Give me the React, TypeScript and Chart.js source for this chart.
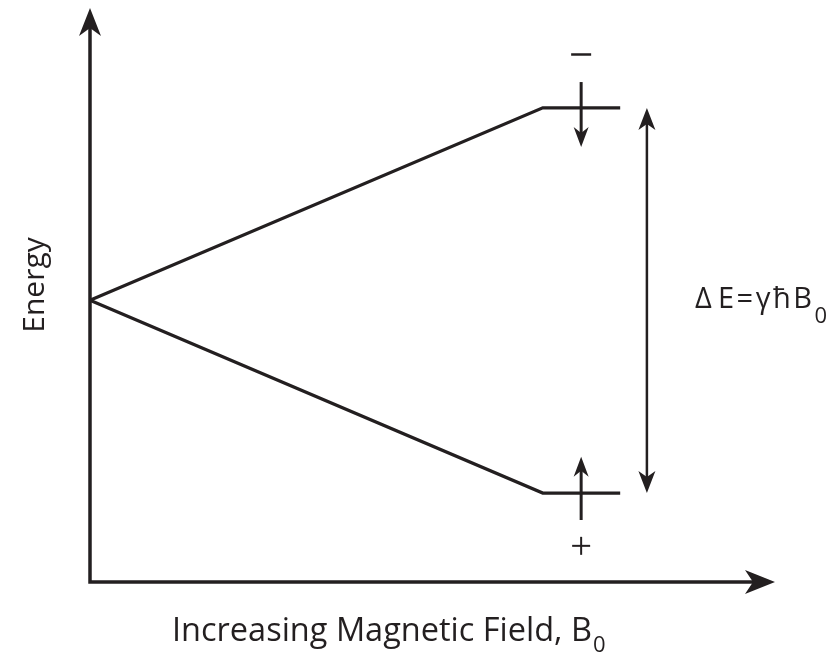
import React, { useEffect, useRef } from "react";
import { Chart, registerables } from "chart.js";

Chart.register(...registerables);

// Data (in chart units: x 0..100, y 0..100)
const fieldPoints = [0, 66.1, 77.4];
const upperEnergy = [49.1, 82.6, 82.6];
const lowerEnergy = [49.1, 15.5, 15.5];
const spinArrowX = 71.7;
const spinDown = [87.1, 75.8]; // from -> tip
const spinUp = [10.8, 21.8]; // from -> tip
const gapArrowX = 81.3;
const gapArrow = [82.6, 15.5];
const minusY = 91.9;
const plusY = 6.3;
const xTitle = "Increasing Magnetic Field, B";
const yTitle = "Energy";
const gapDelta = "\u0394";
const gapRest = "E=\u03b3\u0127B";
const subZero = "0";

const INK = "#231f20";
const FONT = '"Open Sans", "Noto Sans", sans-serif';

function arrowHead(ctx: CanvasRenderingContext2D, tx: number, ty: number, dx: number, dy: number, len: number, half: number, notch: number) {
  const bx = tx - dx * len;
  const by = ty - dy * len;
  const nx = tx - dx * (len - notch);
  const ny = ty - dy * (len - notch);
  const px = -dy;
  const py = dx;
  ctx.beginPath();
  ctx.moveTo(tx, ty);
  ctx.lineTo(bx + px * half, by + py * half);
  ctx.lineTo(nx, ny);
  ctx.lineTo(bx - px * half, by - py * half);
  ctx.closePath();
  ctx.fill();
}

function line(ctx: CanvasRenderingContext2D, x1: number, y1: number, x2: number, y2: number, w: number) {
  ctx.lineWidth = w;
  ctx.beginPath();
  ctx.moveTo(x1, y1);
  ctx.lineTo(x2, y2);
  ctx.stroke();
}

const diagramPlugin = {
  id: "diagram",
  beforeDatasetsDraw(chart: any) {
    const { ctx, scales } = chart;
    const xs = scales.x;
    const ys = scales.y;
    const x0 = xs.getPixelForValue(0);
    const x1 = xs.getPixelForValue(100);
    const y0 = ys.getPixelForValue(0);
    const y1 = ys.getPixelForValue(100);
    ctx.save();
    ctx.strokeStyle = INK;
    ctx.fillStyle = INK;
    ctx.lineCap = "butt";
    ctx.lineJoin = "miter";
    ctx.lineWidth = 3.5;
    ctx.beginPath();
    ctx.moveTo(x0, y1 + 20);
    ctx.lineTo(x0, y0);
    ctx.lineTo(x1 - 20, y0);
    ctx.stroke();
    arrowHead(ctx, x0, y1, 0, -1, 28, 11, 8);
    arrowHead(ctx, x1, y0, 1, 0, 30, 12, 8);
    ctx.restore();
  },
  afterDatasetsDraw(chart: any) {
    const { ctx, scales } = chart;
    const xs = scales.x;
    const ys = scales.y;
    const px = (v: number) => xs.getPixelForValue(v);
    const py = (v: number) => ys.getPixelForValue(v);
    ctx.save();
    ctx.strokeStyle = INK;
    ctx.fillStyle = INK;

    // spin arrows
    const sx = px(spinArrowX);
    line(ctx, sx, py(spinDown[0]), sx, py(spinDown[1]) - 12, 3);
    arrowHead(ctx, sx, py(spinDown[1]), 0, 1, 20, 7.5, 6);
    line(ctx, sx, py(spinUp[0]), sx, py(spinUp[1]) + 12, 3);
    arrowHead(ctx, sx, py(spinUp[1]), 0, -1, 20, 7.5, 6);

    // gap double arrow
    const gx = px(gapArrowX);
    const gt = py(gapArrow[0]);
    const gb = py(gapArrow[1]);
    line(ctx, gx, gt + 12, gx, gb - 12, 2.5);
    arrowHead(ctx, gx, gt, 0, -1, 22, 8.5, 6);
    arrowHead(ctx, gx, gb, 0, 1, 22, 8.5, 6);

    // minus / plus
    line(ctx, sx - 10, py(minusY), sx + 10, py(minusY), 2.5);
    const pyy = py(plusY);
    line(ctx, sx - 9, pyy, sx + 9, pyy, 2);
    line(ctx, sx, pyy - 9, sx, pyy + 9, 2);

    // texts
    ctx.textBaseline = "alphabetic";
    ctx.textAlign = "left";
    ctx.font = `32.5px ${FONT}`;
    const tx = 172;
    const ty = 641;
    ctx.fillText(xTitle, tx, ty);
    const w = ctx.measureText(xTitle).width;
    ctx.font = `22px ${FONT}`;
    ctx.fillText(subZero, tx + w + 1, ty + 11);

    // gap label
    ctx.font = `29px ${FONT}`;
    ctx.fillText(gapDelta, 695, 308);
    (ctx as any).letterSpacing = "2.5px";
    ctx.fillText(gapRest, 718, 308);
    const w2 = ctx.measureText(gapRest).width;
    (ctx as any).letterSpacing = "0px";
    ctx.font = `22px ${FONT}`;
    ctx.fillText(subZero, 718 + w2, 323);

    ctx.save();
    ctx.translate(44, 285);
    ctx.rotate(-Math.PI / 2);
    ctx.textAlign = "center";
    ctx.font = `30px ${FONT}`;
    ctx.fillText(yTitle, 0, 0);
    ctx.restore();

    ctx.restore();
  },
};

export default function App() {
  const ref = useRef<HTMLCanvasElement>(null);
  useEffect(() => {
    document.body.style.margin = "0";
    const canvas = ref.current!;
    const chart = new Chart(canvas, {
      type: "line",
      data: {
        datasets: [
          {
            label: "upper",
            data: fieldPoints.map((x, i) => ({ x, y: upperEnergy[i] })),
            borderColor: INK,
            borderWidth: 3.2,
            pointRadius: 0,
            fill: false,
            tension: 0,
          },
          {
            label: "lower",
            data: fieldPoints.map((x, i) => ({ x, y: lowerEnergy[i] })),
            borderColor: INK,
            borderWidth: 3.2,
            pointRadius: 0,
            fill: false,
            tension: 0,
          },
        ],
      },
      options: {
        responsive: false,
        animation: false,
        layout: { padding: { left: 90, right: 60, top: 8, bottom: 73 } },
        plugins: { legend: { display: false }, tooltip: { enabled: false } },
        scales: {
          x: { type: "linear", min: 0, max: 100, display: false },
          y: { type: "linear", min: 0, max: 100, display: false },
        },
      },
      plugins: [diagramPlugin],
    });
    return () => chart.destroy();
  }, []);
  return (
    <div style={{ position: "absolute", left: 0, top: 0, width: 835, height: 655, background: "#fff" }}>
      <canvas ref={ref} width={835} height={655} />
    </div>
  );
}
